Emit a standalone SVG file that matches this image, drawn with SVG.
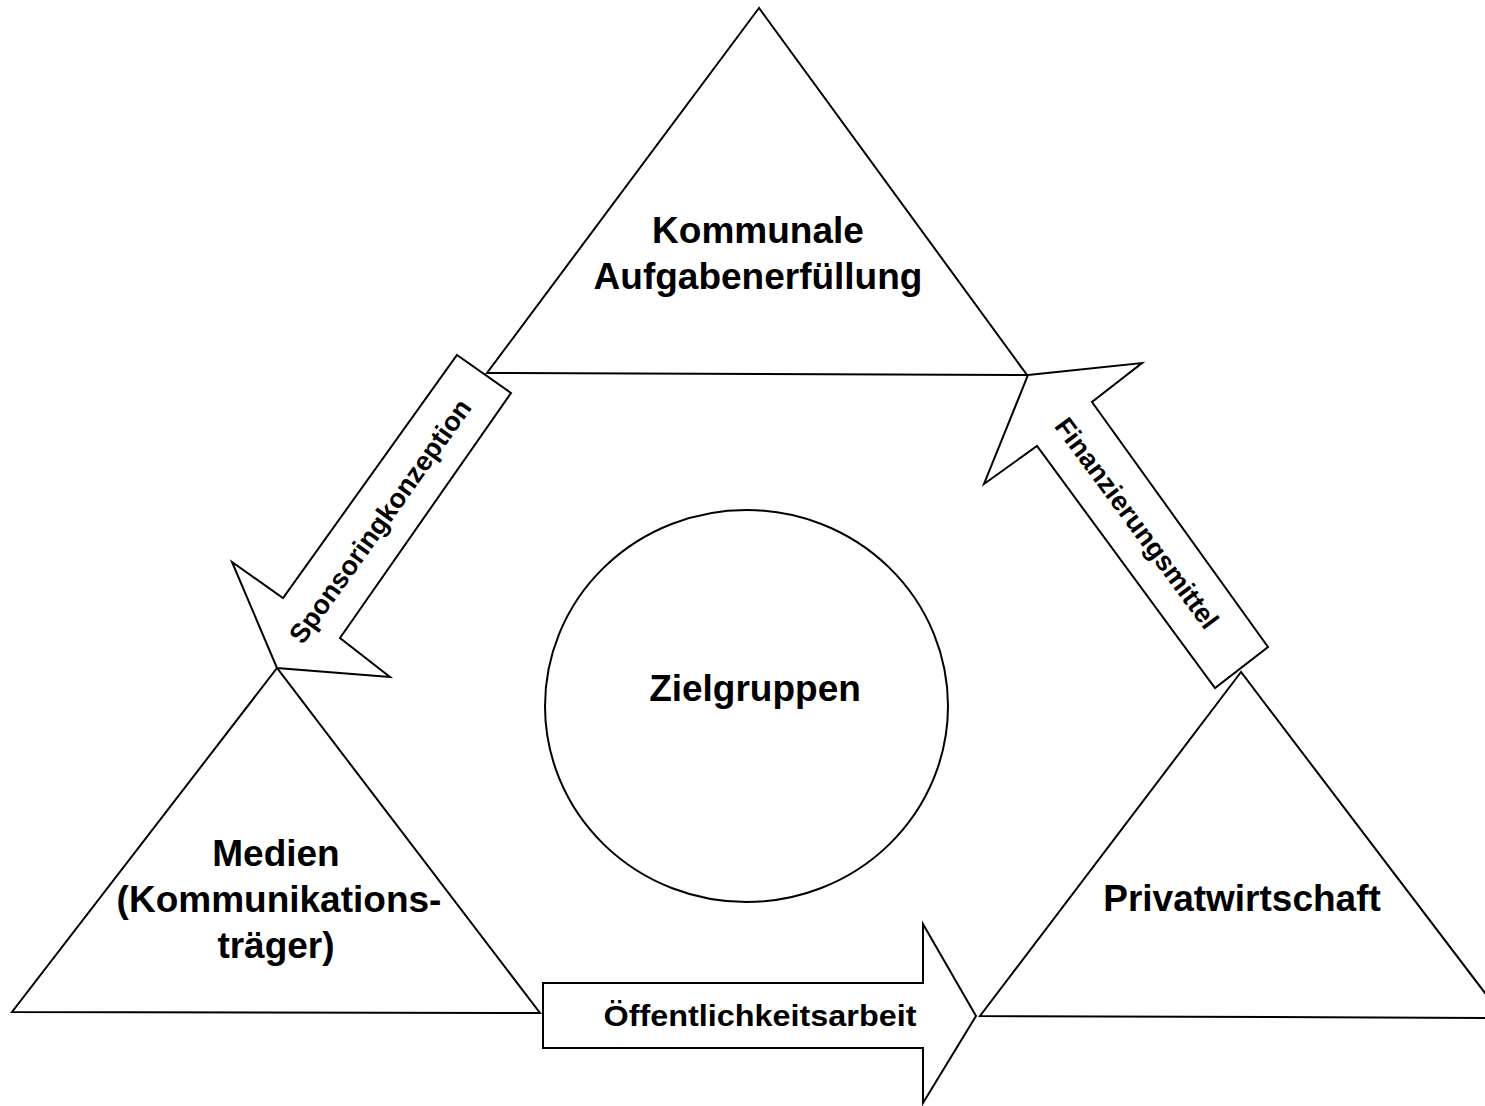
<svg xmlns="http://www.w3.org/2000/svg" width="1485" height="1106" viewBox="0 0 1485 1106">
  <style>
    .shape { fill: #ffffff; stroke: #000000; stroke-width: 2; stroke-linejoin: miter; }
    .label { font-family: "Liberation Sans", Arial, sans-serif; font-weight: bold; font-size: 37px; fill: #000000; text-anchor: middle; }
    .arrowlabel { font-family: "Liberation Sans", Arial, sans-serif; font-weight: bold; font-size: 27px; fill: #000000; text-anchor: middle; }
  </style>
  <rect x="0" y="0" width="1485" height="1106" fill="#ffffff"/>

  <g id="node-kommunale">
    <polygon class="shape" points="759,8 487,373 1027,375"/>
    <text class="label" x="758" y="243">Kommunale</text>
    <text class="label" x="758" y="289">Aufgabenerfüllung</text>
  </g>

  <g id="node-medien">
    <polygon class="shape" points="277,668 12,1012 540,1013"/>
    <text class="label" x="276" y="866">Medien</text>
    <text class="label" x="279" y="912">(Kommunikations-</text>
    <text class="label" x="276" y="958">träger)</text>
  </g>

  <g id="node-privatwirtschaft">
    <polygon class="shape" points="1241,672 980,1016 1504,1018"/>
    <text class="label" x="1242" y="911">Privatwirtschaft</text>
  </g>

  <g id="node-zielgruppen">
    <ellipse class="shape" cx="746.5" cy="706" rx="201.5" ry="196"/>
    <text class="label" x="755" y="701">Zielgruppen</text>
  </g>

  <g id="connectors">
    <g id="arrow-sponsoring">
      <polygon class="shape" points="457,355 511,393 340,638 390,677 277,668 232,562 283,598"/>
      <text class="arrowlabel" transform="translate(380,521) rotate(-54.5)" y="9.5">Sponsoringkonzeption</text>
    </g>
    <g id="arrow-finanzierung">
      <polygon class="shape" points="1028,375 1142,363 1092,402 1268,647 1215,688 1037,446 984,484"/>
      <text class="arrowlabel" transform="translate(1137,523) rotate(53.5)" y="9.5">Finanzierungsmittel</text>
    </g>
    <g id="arrow-oeffentlichkeit">
      <polygon class="shape" points="543,983 923,983 923,924 976,1016 923,1103 923,1048 543,1048"/>
      <text class="arrowlabel" x="760" y="1026" style="font-size:30px" textLength="313" lengthAdjust="spacingAndGlyphs">Öffentlichkeitsarbeit</text>
    </g>
  </g>
</svg>
